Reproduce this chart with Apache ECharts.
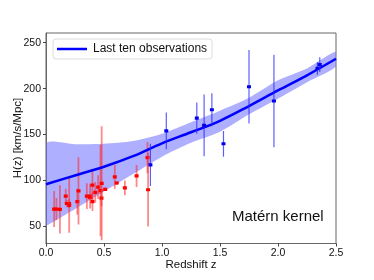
<!DOCTYPE html>
<html>
<head>
<meta charset="utf-8">
<script src="https://cdn.jsdelivr.net/npm/echarts@6/dist/echarts.min.js"></script>
<style>html,body{margin:0;padding:0;background:#fff}#c{width:374px;height:280px}</style>
</head>
<body>
<div id="c"></div>
<script>
// GP reconstruction grid
const zGrid = [0, 0.25, 0.5, 0.75, 1.0, 1.25, 1.5, 1.75, 2.0, 2.25, 2.5];
const meanH = [96, 105.5, 115, 126.5, 140.5, 152.5, 165, 181, 198, 214.5, 232.5];
const upperH = [140, 139.5, 140, 143, 151, 163.5, 176, 190, 209, 222, 240];
const lowerH = [51, 69, 88, 107, 126, 141, 153, 172, 189, 207, 224];

// observations: [z, H, sigma]
const redObs = [
  [0.07,69,19.6],[0.09,69,12],[0.12,68.6,26.2],[0.17,83,8],[0.179,75,4],[0.199,75,5],
  [0.2,72.9,29.6],[0.27,77,14],[0.28,88.8,36.6],[0.352,83,14],[0.38,81.5,1.9],[0.3802,83,13.5],
  [0.4,95,17],[0.4004,77,10.2],[0.4247,87.1,11.2],[0.4497,92.8,12.9],[0.47,89,49.6],
  [0.4783,80.9,9],[0.48,97,62],[0.51,90.4,1.9],[0.593,104,13],[0.61,97.3,2.1],[0.68,92,8],
  [0.781,105,12],[0.875,125,17],[0.88,90,40]
];
const blueObs = [
  [0.9,117,23],[1.037,154,20],[1.3,168,17],[1.363,160,33.6],[1.43,177,18],[1.53,140,14],
  [1.75,202,40],[1.965,186.5,50.4],[2.34,222,7],[2.36,226,8]
];
const yTicks = [50, 100, 150, 200, 250];

const FONT = '"Liberation Sans", Arial, sans-serif';
const chart = echarts.init(document.getElementById('c'), null, {renderer: 'canvas'});

function errRender(barColor, barWidth, markColor) {
  return function (params, api) {
    const x = api.value(0), y = api.value(1), e = api.value(2);
    const lo = api.coord([x, y - e]);
    const hi = api.coord([x, y + e]);
    const c = api.coord([x, y]);
    return {
      type: 'group',
      children: [
        {type: 'line', shape: {x1: lo[0], y1: lo[1], x2: hi[0], y2: hi[1]},
         style: {stroke: barColor, lineWidth: barWidth}},
        {type: 'rect', shape: {x: c[0] - 2, y: c[1] - 1.6, width: 4, height: 3.2},
         style: {fill: markColor}}
      ]
    };
  };
}

function bandRender(params, api) {
  const pts = [];
  for (let i = 0; i < zGrid.length; i++) pts.push(api.coord([zGrid[i], upperH[i]]));
  for (let i = zGrid.length - 1; i >= 0; i--) pts.push(api.coord([zGrid[i], lowerH[i]]));
  let minX = Infinity, minY = Infinity, maxX = -Infinity, maxY = -Infinity;
  pts.forEach(p => { minX = Math.min(minX, p[0]); maxX = Math.max(maxX, p[0]);
                     minY = Math.min(minY, p[1]); maxY = Math.max(maxY, p[1]); });
  return {
    type: 'polygon',
    shape: {points: pts, smooth: 0.25, smoothConstraint: [[minX, minY], [maxX, maxY]]},
    style: {fill: 'rgba(110,110,255,0.55)'}
  };
}

chart.setOption({
  animation: false,
  backgroundColor: '#fff',
  grid: {left: 46, right: 38, top: 33, bottom: 36.5, outerBoundsMode: 'none', containLabel: false,
    show: true, borderColor: '#666', borderWidth: 1},
  legend: {
    show: true, left: 53, top: 39,
    data: [{name: 'Last ten observations'}],
    icon: 'rect', itemWidth: 30, itemHeight: 2.5, itemGap: 5,
    padding: [4, 5, 4, 4],
    borderColor: '#ddd', borderWidth: 1, borderRadius: 3,
    backgroundColor: '#fff',
    textStyle: {fontFamily: FONT, fontSize: 12, color: '#111', padding: [0, 0, 0, 1]}
  },
  xAxis: {
    type: 'value', min: 0, max: 2.5, interval: 0.5,
    name: 'Redshift z', nameLocation: 'middle', nameGap: 15, nameMoveOverlap: false,
    nameTextStyle: {fontFamily: FONT, fontSize: 11.5, color: '#111'},
    axisLine: {show: true, onZero: false, lineStyle: {color: '#666', width: 1}},
    axisTick: {show: true, inside: false, length: 3, lineStyle: {color: '#444'}},
    axisLabel: {fontFamily: FONT, fontSize: 10.5, color: '#111', margin: 4,
      formatter: v => v.toFixed(1)},
    splitLine: {show: false}
  },
  yAxis: {
    type: 'value', min: 31.5, max: 260.5,
    axisLine: {show: true, onZero: false, lineStyle: {color: '#666', width: 1}},
    axisTick: {show: true, inside: false, length: 3, lineStyle: {color: '#444'}, customValues: yTicks},
    axisLabel: {fontFamily: FONT, fontSize: 10.5, color: '#111', margin: 5, customValues: yTicks},
    splitLine: {show: false}
  },
  graphic: [
    {
      type: 'text', left: 232, top: 209,
      style: {text: 'Matérn kernel', fontFamily: FONT, fontSize: 15, fill: '#111'}
    },
    {
      type: 'text', x: 18, y: 138, rotation: Math.PI / 2,
      style: {text: 'H(z) [km/s/Mpc]', fontFamily: FONT, fontSize: 11.5, fill: '#111',
        align: 'center', verticalAlign: 'middle'}
    }
  ],
  series: [
    {
      type: 'custom', name: 'band', renderItem: bandRender,
      data: [[1, 100]], z: 1, clip: true, silent: true
    },
    {
      type: 'custom', name: 'early', renderItem: errRender('rgba(255,40,40,0.55)', 1.8, '#ff0000'),
      data: redObs, z: 3, clip: true
    },
    {
      name: 'Last ten observations', type: 'line', smooth: 0.35, symbol: 'none', showSymbol: false,
      data: zGrid.map((z, i) => [z, meanH[i]]),
      itemStyle: {color: '#0000ff'},
      lineStyle: {color: '#0000ff', width: 2.5}, z: 4
    },
    {
      type: 'custom', name: 'last', renderItem: errRender('rgba(40,40,255,0.75)', 1.2, '#0000ee'),
      data: blueObs, z: 5, clip: true
    }
  ]
});
</script>
</body>
</html>
